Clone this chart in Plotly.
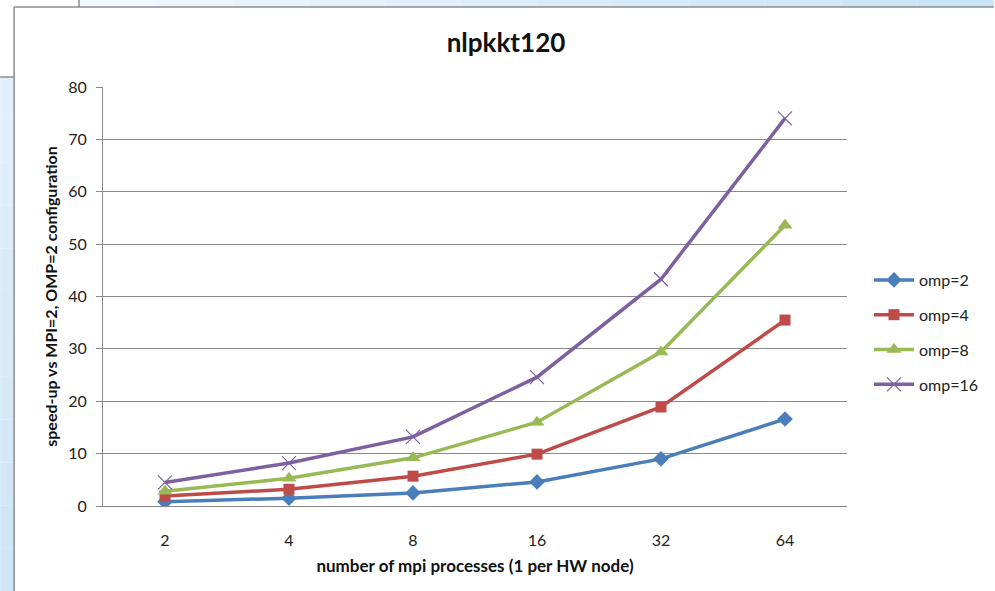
import plotly.graph_objects as go

# MPI process counts (category axis) and measured speed-ups per OMP thread count
mpi_procs = ["2", "4", "8", "16", "32", "64"]
omp2 = [0.8, 1.5, 2.5, 4.6, 9.0, 16.6]
omp4 = [1.9, 3.2, 5.7, 9.9, 18.9, 35.5]
omp8 = [2.8, 5.3, 9.2, 16.0, 29.4, 53.6]
omp16 = [4.5, 8.2, 13.2, 24.6, 43.3, 74.0]
y_ticks = [0, 10, 20, 30, 40, 50, 60, 70, 80]

W, H = 995, 591
ML, MR, MT, MB = 103, 147, 87, 85
PW, PH = W - ML - MR, H - MT - MB


def px(x):
    return (x - ML) / PW


def py(y):
    return 1 - (y - MT) / PH


series = [
    ("omp=2", omp2, "#4A7EBB", dict(symbol="diamond", size=12)),
    ("omp=4", omp4, "#BE4B48", dict(symbol="square", size=11)),
    ("omp=8", omp8, "#98B954", dict(symbol="triangle-up", size=13)),
    ("omp=16", omp16, "#7D60A0", dict(symbol="x-thin-open", size=14,
                                      line=dict(width=1.2, color="#9A85BE"))),
]

fig = go.Figure()
for name, vals, color, mk in series:
    marker = dict(color=color, **mk)
    if "line" not in mk:
        marker["line"] = dict(width=0)
    fig.add_trace(go.Scatter(
        x=mpi_procs, y=vals, name=name, legendgroup=name, mode="lines+markers",
        line=dict(color=color, width=3.5), marker=marker,
    ))

shapes = []
# window background strips around the chart frame
n = 12
for i in range(n):
    x0 = 80 + (W - 80) * i / n
    x1 = 80 + (W - 80) * (i + 1) / n
    t = i / (n - 1)
    r = int(240 - 40 * t)
    g = int(247 - 19 * t)
    b = int(253 - 6 * t)
    shapes.append(dict(type="rect", xref="paper", yref="paper",
                       x0=px(x0), x1=px(x1), y0=py(7), y1=py(0),
                       line=dict(width=0), fillcolor=f"rgb({r},{g},{b})", layer="below"))
for i in range(n):
    y0 = 77 + (H - 77) * i / n
    y1 = 77 + (H - 77) * (i + 1) / n
    t = i / (n - 1)
    r = int(226 - 20 * t)
    g = int(240 - 10 * t)
    b = int(251 - 4 * t)
    shapes.append(dict(type="rect", xref="paper", yref="paper",
                       x0=px(0), x1=px(14), y0=py(y1), y1=py(y0),
                       line=dict(width=0), fillcolor=f"rgb({r},{g},{b})", layer="below"))
frame = "#8C8C8C"
for x0, y0, x1, y1 in [(14, 7, W, 7), (14, 7, 14, H), (0, 77, 14, 77), (79, 0, 79, 7)]:
    shapes.append(dict(type="line", xref="paper", yref="paper",
                       x0=px(x0), x1=px(x1), y0=py(y0), y1=py(y1),
                       line=dict(color=frame, width=1.5)))

fig.update_layout(
    width=W, height=H,
    margin=dict(l=ML, r=MR, t=MT, b=MB),
    paper_bgcolor="white", plot_bgcolor="white",
    font=dict(family="Lato, Open Sans, sans-serif", color="#222"),
    title=dict(text="<b>nlpkkt120</b>", x=506 / W, xanchor="center",
               y=1 - 43 / H, yanchor="middle", font=dict(size=26, color="#111")),
    showlegend=True,
    legend=dict(x=px(869), y=py(263), xanchor="left", yanchor="top",
                font=dict(size=16, color="#222"), tracegroupgap=11,
                itemwidth=40, bgcolor="rgba(0,0,0,0)"),
    shapes=shapes,
)
fig.update_xaxes(
    type="category", showgrid=False, showline=True, linecolor="#888", linewidth=1,
    ticks="", tickfont=dict(size=16, color="#222"), ticklabelstandoff=20,
    title=dict(text="<b>number of mpi processes (1 per HW node)</b>",
               font=dict(size=17, color="#111"), standoff=11),
    range=[-0.5, 5.5], zeroline=False,
)
fig.update_yaxes(
    range=[0, 80], tickvals=y_ticks, showgrid=True, gridcolor="#8A8A8A", gridwidth=1,
    showline=True, linecolor="#888", linewidth=1, ticks="outside", ticklen=6,
    tickcolor="#888", tickfont=dict(size=16, color="#222"), zeroline=False,
    ticklabelstandoff=6,
    title=dict(text="<b>speed-up vs MPI=2, OMP=2 configuration</b>",
               font=dict(size=16, color="#111"), standoff=6),
)

fig.write_html("out.html")
